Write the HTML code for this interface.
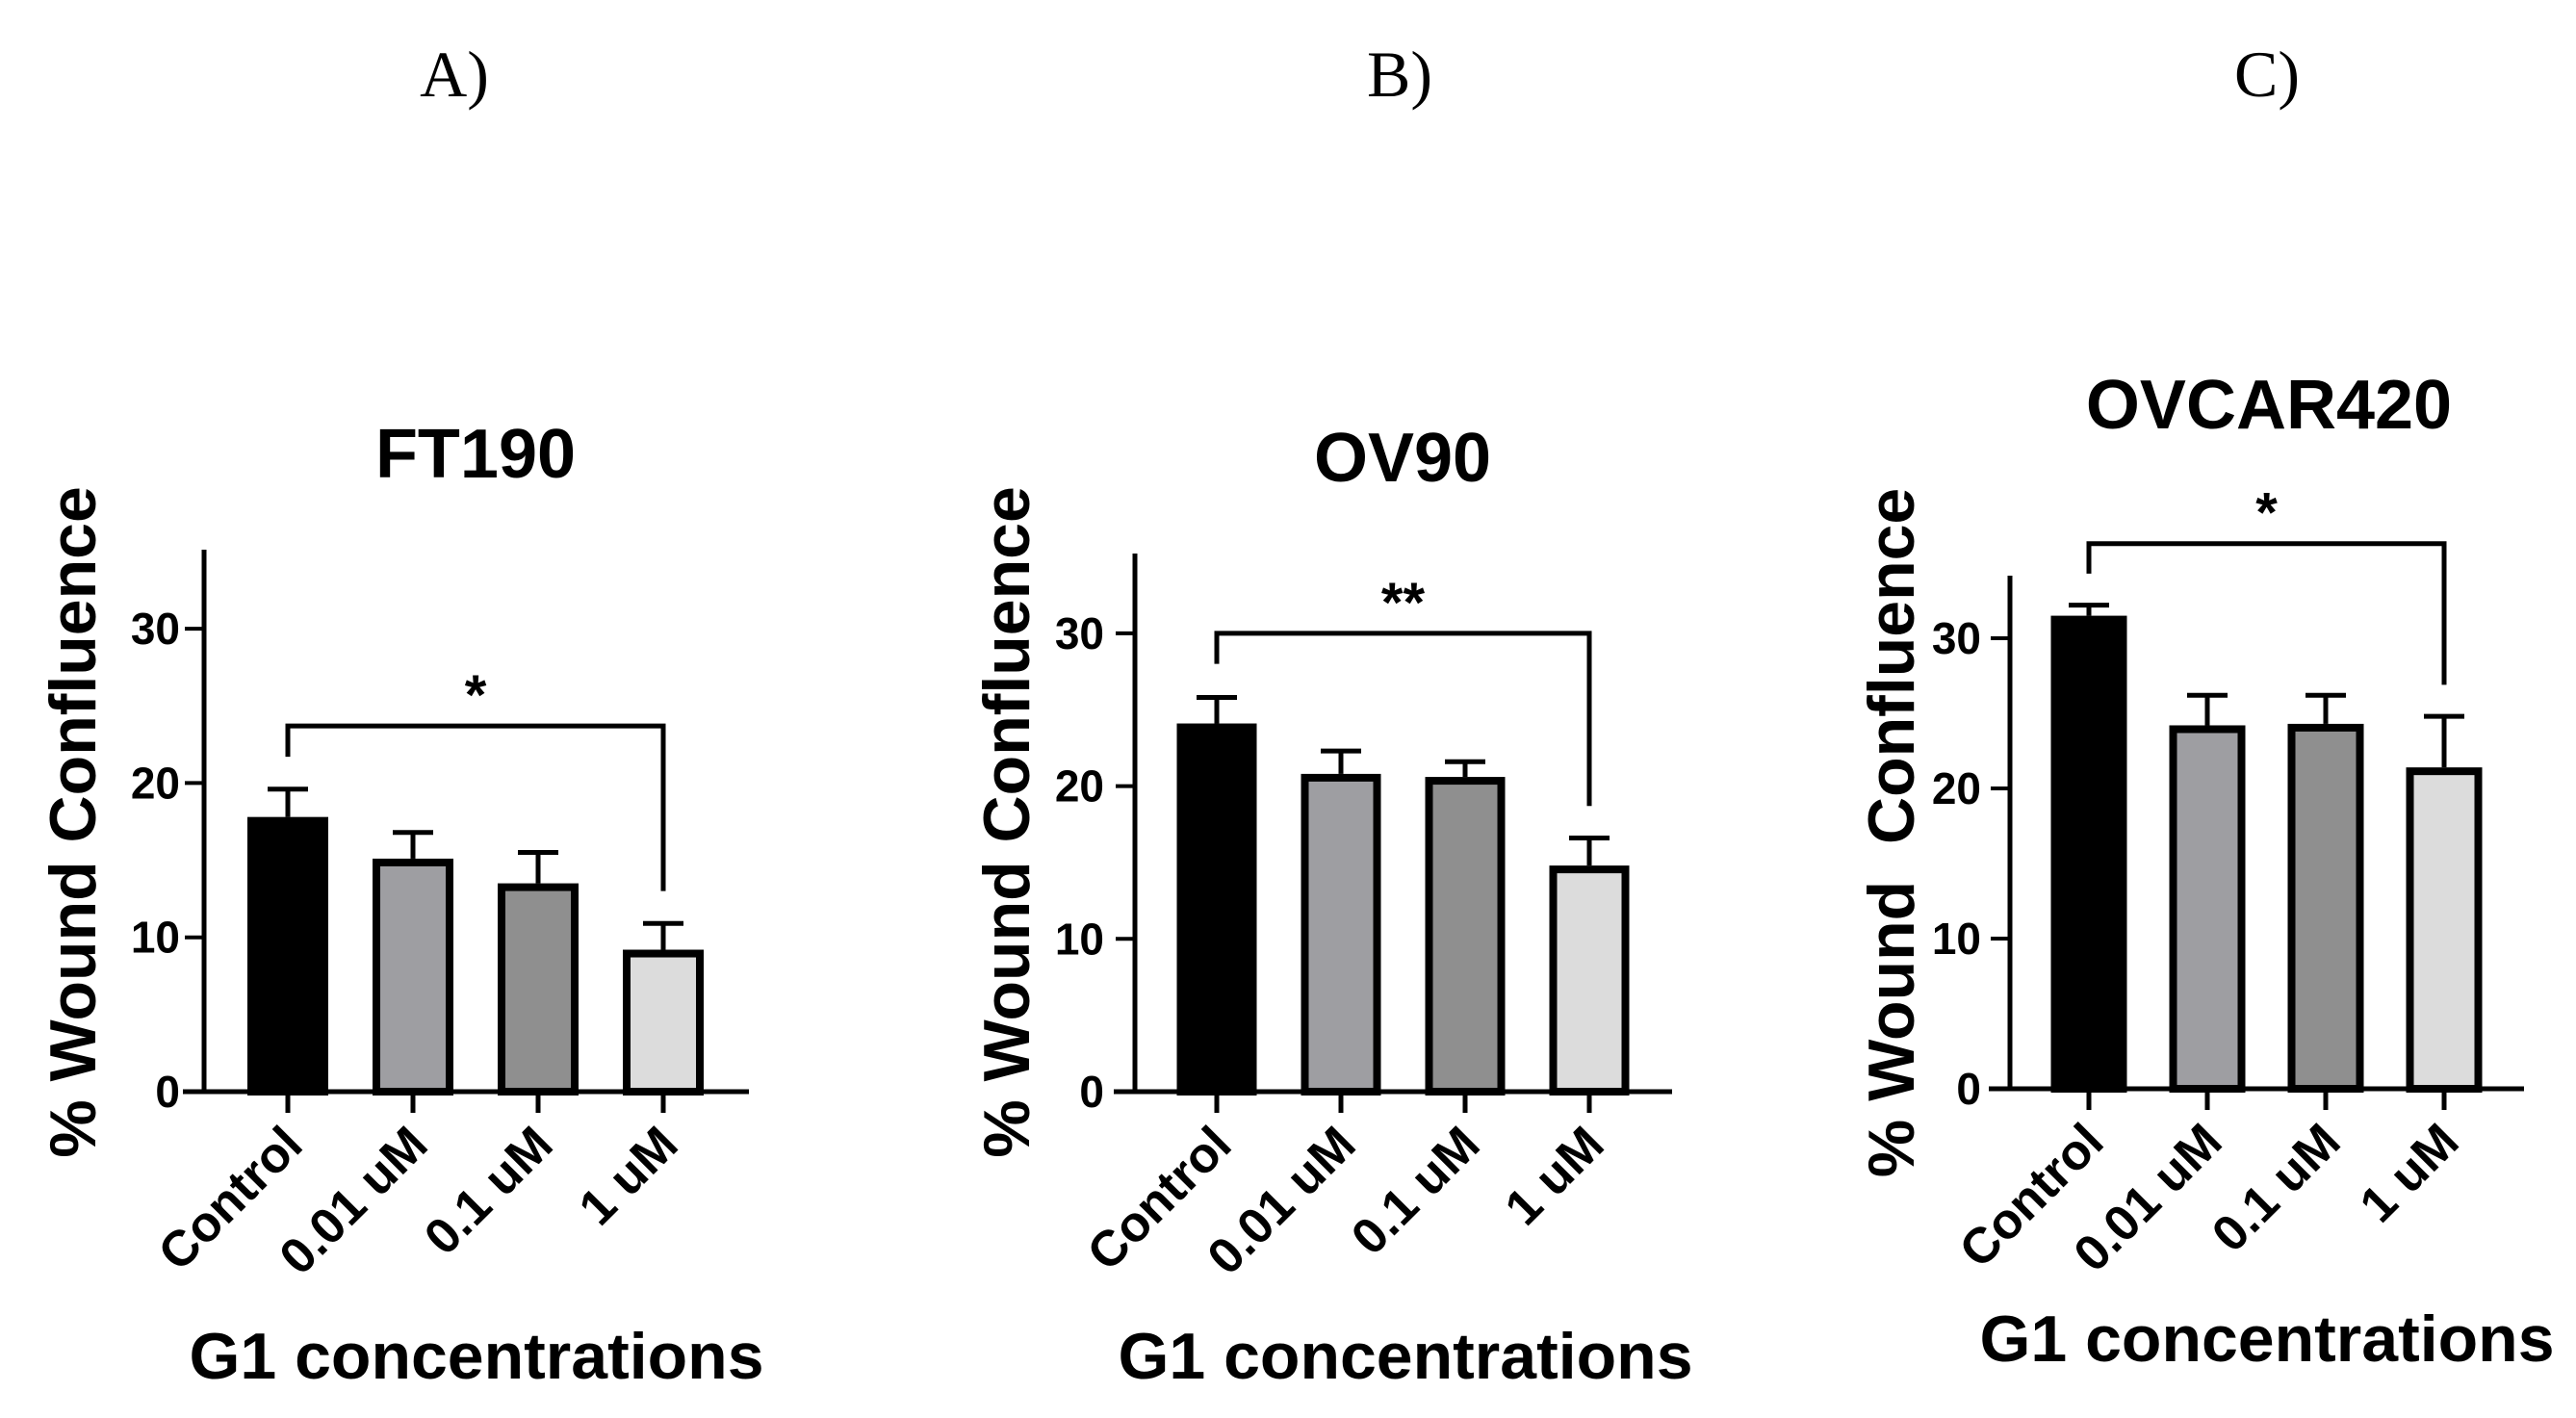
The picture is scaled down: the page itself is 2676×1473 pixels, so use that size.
<!DOCTYPE html>
<html><head><meta charset="utf-8">
<style>
html,body{margin:0;padding:0;background:#fff;}
svg{display:block;}
text{font-family:"Liberation Sans",sans-serif;font-weight:bold;fill:#000;}
.pl{font-family:"Liberation Serif",serif;font-weight:normal;font-size:68px;}
</style></head>
<body>
<svg id="chart" width="2676" height="1473" viewBox="0 0 2676 1473" xmlns="http://www.w3.org/2000/svg">
<text class="pl" x="472" y="100" text-anchor="middle">A)</text>
<text class="pl" x="1454" y="100" text-anchor="middle">B)</text>
<text class="pl" x="2355" y="100" text-anchor="middle">C)</text>
</svg>
<script>
const categories = ["Control","0.01 uM","0.1 uM","1 uM"];
const yTicks = [0,10,20,30];
const ft190Means = [17.8,15.1,13.5,9.2];
const ft190Errors = [1.8,1.7,2.0,1.7];
const ov90Means = [24.1,20.8,20.6,14.8];
const ov90Errors = [1.7,1.5,1.0,1.8];
const ovcarMeans = [31.5,24.2,24.3,21.4];
const ovcarErrors = [0.7,2.0,1.9,3.4];
const titles = ["FT190","OV90","OVCAR420"];
const sigLabels = ["*","**","*"];
const colors = ["#000000","#9e9ea2","#8f8f8f","#dcdcdc"];

const NS="http://www.w3.org/2000/svg";
const svg=document.getElementById('chart');
function mk(tag,attrs,parent){const e=document.createElementNS(NS,tag);for(const k in attrs)e.setAttribute(k,attrs[k]);(parent||svg).appendChild(e);return e;}

const panels=[
 {id:'ft190',means:ft190Means,errs:ft190Errors,axX:212,top:571,y0:1134,unit:16.03,right:778,x0:299,step:130,bw:84,
  brY:23.7,brL:21.7,brR:13.0,titleX:494,titleY:496,ylabX:75,ylabY:854,ylab:"% Wound Confluence",g1X:495,g1Y:1432,tickR:187},
 {id:'ov90',means:ov90Means,errs:ov90Errors,axX:1179,top:575,y0:1134,unit:15.87,right:1737,x0:1264,step:129,bw:83,
  brY:30.0,brL:28.0,brR:18.7,titleX:1457,titleY:500,ylabX:1045,ylabY:854,ylab:"% Wound Confluence",g1X:1460,g1Y:1432,tickR:1147},
 {id:'ovcar420',means:ovcarMeans,errs:ovcarErrors,axX:2088,top:598,y0:1131,unit:15.6,right:2622,x0:2170,step:123,bw:79,
  brY:36.3,brL:34.3,brR:26.9,titleX:2357,titleY:445,ylabX:1964,ylabY:865,ylab:"% Wound\u00a0\u00a0Confluence",g1X:2355,g1Y:1414,tickR:2058}
];

panels.forEach((p,pi)=>{
  const g=mk('g',{});
  
  
  const yS=v=>p.y0-v*p.unit;
  const xS=i=>p.x0+i*p.step;
  const t=mk('text',{x:p.titleX,y:p.titleY,'text-anchor':'middle','font-size':72},g);
  t.textContent=titles[pi];
  
  
  const yl=mk('text',{x:0,y:0,'text-anchor':'middle','font-size':68,transform:`translate(${p.ylabX+24},${p.ylabY}) rotate(-90)`},g);
  yl.textContent=p.ylab;
  
  
  const xl=mk('text',{x:p.g1X,y:p.g1Y,'text-anchor':'middle','font-size':68},g);
  xl.textContent="G1 concentrations";
  
  
  p.means.forEach((m,i)=>{
    const x=xS(i), top=yS(m);
    const r=mk('rect',{x:x-p.bw/2+4,y:top+4,width:p.bw-8,height:p.y0-top-4,fill:colors[i],stroke:'#000','stroke-width':8},g);
    
    
    const et=yS(m+p.errs[i]);
    const e1=mk('line',{x1:x,x2:x,y1:top,y2:et,stroke:'#000','stroke-width':5},g);
    
    
    const e2=mk('line',{x1:x-21,x2:x+21,y1:et,y2:et,stroke:'#000','stroke-width':5},g);
    
    
    const tk=mk('line',{x1:x,x2:x,y1:p.y0,y2:p.y0+22,stroke:'#000','stroke-width':5},g);
    
    
    const cl=mk('text',{x:0,y:0,'text-anchor':'end','font-size':52,transform:`translate(${x+18},${p.y0+58}) rotate(-45)`},g);
    cl.textContent=categories[i];
    
    
  });
  const ax=mk('line',{x1:p.axX,x2:p.axX,y1:p.top,y2:p.y0+2,stroke:'#000','stroke-width':5},g);
  
  
  const bx=mk('line',{x1:p.axX-22,x2:p.right,y1:p.y0,y2:p.y0,stroke:'#000','stroke-width':5},g);
  
  
  yTicks.forEach(v=>{
    const tl=mk('line',{x1:p.axX-20,x2:p.axX,y1:yS(v),y2:yS(v),stroke:'#000','stroke-width':4},g);
    
    
    const tx=mk('text',{x:p.tickR,y:yS(v)+16,'text-anchor':'end','font-size':46},g);
    tx.textContent=v;
    
    
  });
  const xl0=xS(0), xr=xS(3);
  const br=mk('path',{d:`M${xl0},${yS(p.brL)} V${yS(p.brY)} H${xr} V${yS(p.brR)}`,fill:'none',stroke:'#000','stroke-width':5},g);
  
  
  const st=mk('text',{x:(xl0+xr)/2,y:yS(p.brY)-12,'text-anchor':'middle','font-size':58},g);
  st.textContent=sigLabels[pi];
  
  
});
</script>
</body></html>
